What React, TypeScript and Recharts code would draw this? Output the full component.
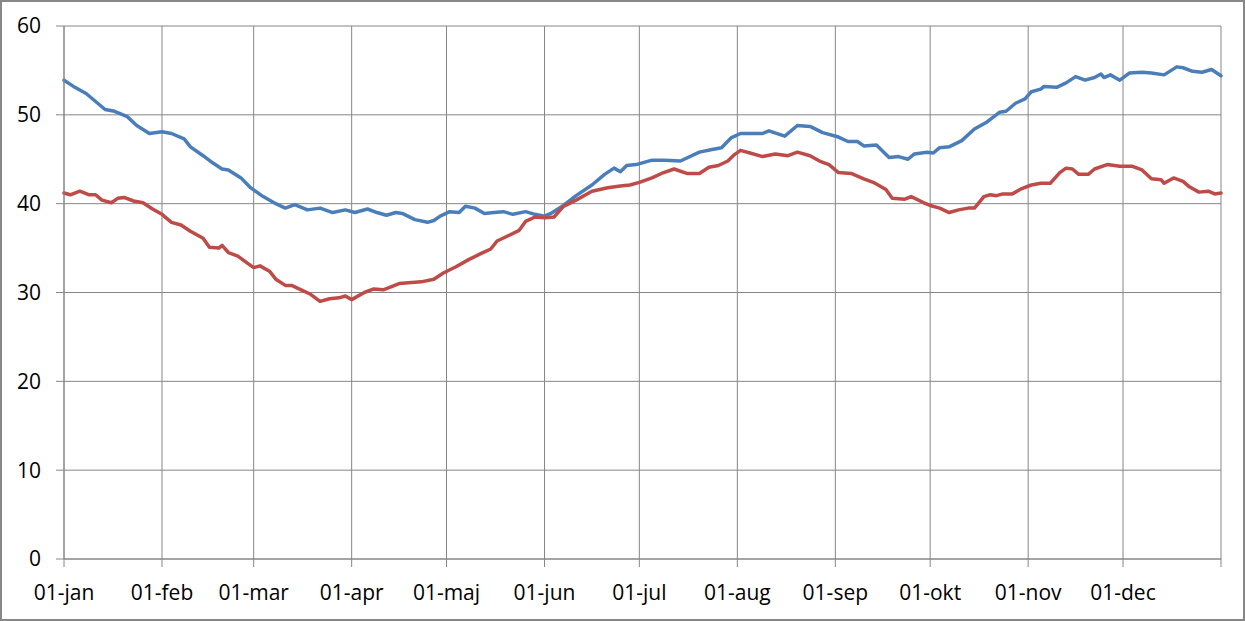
import { LineChart, Line, XAxis, YAxis, CartesianGrid } from 'recharts'

// day of year (0 = 01-jan, leap year) for each month start, plus year end
const monthDays = [0, 31, 60, 91, 121, 152, 182, 213, 244, 274, 305, 335, 366]
const monthLabels = [
  '01-jan', '01-feb', '01-mar', '01-apr', '01-maj', '01-jun',
  '01-jul', '01-aug', '01-sep', '01-okt', '01-nov', '01-dec', '',
]
const yTicks = [0, 10, 20, 30, 40, 50, 60]

const blueDays = [
  0, 3, 7, 10, 13, 16, 20, 23, 27, 31, 34, 38, 40, 44, 47, 50, 52, 56, 59, 63,
  67, 70, 73, 77, 81, 85, 89, 92, 96, 99, 102, 105, 107, 111, 115, 117, 119, 122, 125, 127,
  130, 133, 136, 139, 142, 146, 149, 152, 154, 158, 162, 167, 171, 174, 176, 178, 181, 186, 190, 195,
  201, 205, 208, 211, 214, 217, 221, 223, 228, 232, 236, 240, 245, 248, 251, 253, 257, 261, 264, 267,
  269, 273, 275, 277, 280, 284, 288, 292, 296, 298, 301, 304, 306, 309, 310, 314, 317, 320, 323, 326,
  328, 329, 331, 334, 337, 341, 344, 348, 352, 354, 357, 360, 363, 366,
]
const blueValues = [
  53.9, 53.2, 52.4, 51.5, 50.6, 50.4, 49.8, 48.8, 47.9, 48.1, 47.9, 47.3, 46.4, 45.4, 44.6, 43.9, 43.8, 42.9, 41.8, 40.8,
  40.0, 39.5, 39.9, 39.3, 39.5, 39.0, 39.3, 39.0, 39.4, 39.0, 38.7, 39.0, 38.9, 38.2, 37.9, 38.1, 38.6, 39.1, 39.0, 39.7,
  39.5, 38.9, 39.0, 39.1, 38.8, 39.1, 38.8, 38.6, 38.9, 39.8, 40.9, 42.1, 43.3, 44.0, 43.6, 44.3, 44.4, 44.9, 44.9, 44.8,
  45.8, 46.1, 46.3, 47.4, 47.9, 47.9, 47.9, 48.2, 47.6, 48.8, 48.7, 48.0, 47.5, 47.0, 47.0, 46.5, 46.6, 45.2, 45.3, 45.0,
  45.6, 45.8, 45.7, 46.3, 46.4, 47.1, 48.4, 49.2, 50.3, 50.4, 51.3, 51.8, 52.6, 52.9, 53.2, 53.1, 53.6, 54.3, 53.9, 54.2,
  54.6, 54.2, 54.5, 53.9, 54.7, 54.8, 54.7, 54.5, 55.4, 55.3, 54.9, 54.8, 55.1, 54.4,
]

const redDays = [
  0, 2, 5, 8, 10, 12, 15, 17, 19, 22, 25, 28, 31, 34, 37, 40, 44, 46, 49, 50,
  52, 55, 58, 60, 62, 65, 67, 70, 72, 75, 78, 81, 84, 87, 89, 91, 95, 98, 101, 106,
  109, 113, 117, 120, 124, 128, 132, 135, 137, 140, 144, 146, 149, 152, 155, 158, 162, 167, 172, 176,
  179, 182, 186, 189, 193, 197, 201, 204, 207, 210, 212, 214, 217, 221, 225, 229, 232, 236, 239, 242,
  245, 249, 253, 256, 260, 262, 266, 268, 272, 274, 277, 280, 283, 286, 288, 291, 293, 295, 297, 300,
  303, 306, 309, 312, 315, 317, 319, 321, 324, 326, 330, 334, 338, 341, 344, 347, 348, 351, 354, 356,
  359, 362, 364, 366,
]
const redValues = [
  41.2, 41.0, 41.4, 41.0, 41.0, 40.4, 40.1, 40.6, 40.7, 40.3, 40.1, 39.4, 38.8, 37.9, 37.6, 36.9, 36.1, 35.1, 35.0, 35.3,
  34.5, 34.1, 33.3, 32.8, 33.0, 32.4, 31.5, 30.8, 30.8, 30.3, 29.8, 29.0, 29.3, 29.4, 29.6, 29.2, 30.0, 30.4, 30.3, 31.0,
  31.1, 31.2, 31.5, 32.2, 32.9, 33.7, 34.4, 34.9, 35.8, 36.3, 37.0, 38.0, 38.5, 38.4, 38.5, 39.7, 40.4, 41.4, 41.8, 42.0,
  42.1, 42.4, 42.9, 43.4, 43.9, 43.4, 43.4, 44.1, 44.3, 44.8, 45.5, 46.0, 45.7, 45.3, 45.6, 45.4, 45.8, 45.4, 44.8, 44.4,
  43.5, 43.4, 42.8, 42.4, 41.6, 40.6, 40.5, 40.8, 40.1, 39.8, 39.5, 39.0, 39.3, 39.5, 39.5, 40.8, 41.0, 40.9, 41.1, 41.1,
  41.7, 42.1, 42.3, 42.3, 43.5, 44.0, 43.9, 43.3, 43.3, 43.9, 44.4, 44.2, 44.2, 43.8, 42.8, 42.7, 42.3, 42.9, 42.5, 41.9,
  41.3, 41.4, 41.1, 41.2,
]

const blueData = blueDays.map((day, i) => ({ day, value: blueValues[i] }))
const redData = redDays.map((day, i) => ({ day, value: redValues[i] }))

const GRID = '#868686'
const tickStyle = { fontSize: 21, fill: '#000', fontFamily: '"Open Sans", sans-serif' }

function formatMonth(day: number): string {
  const i = monthDays.indexOf(day)
  return i >= 0 ? monthLabels[i] : ''
}

export default function App() {
  return (
    <div style={{ position: 'absolute', left: 0, top: 0, width: 1245, height: 621, background: '#fff' }}>
      <LineChart width={1245} height={621} margin={{ top: 26, right: 24, bottom: 0, left: 0 }}>
        <CartesianGrid stroke={GRID} strokeWidth={1} />
        <XAxis
          type="number"
          dataKey="day"
          domain={[0, 366]}
          ticks={monthDays}
          interval={0}
          tickFormatter={formatMonth}
          height={62}
          stroke={GRID}
          tickSize={8}
          tickMargin={18}
          tick={tickStyle}
          allowDuplicatedCategory={false}
        />
        <YAxis
          domain={[0, 60]}
          ticks={yTicks}
          interval={0}
          width={64}
          stroke={GRID}
          tickSize={8}
          tickMargin={15}
          tick={tickStyle}
        />
        <Line
          data={blueData}
          dataKey="value"
          type="linear"
          stroke="#4a7ebb"
          strokeWidth={3.5}
          strokeLinejoin="round"
          strokeLinecap="round"
          dot={false}
          activeDot={false}
          isAnimationActive={false}
        />
        <Line
          data={redData}
          dataKey="value"
          type="linear"
          stroke="#be4b48"
          strokeWidth={3.5}
          strokeLinejoin="round"
          strokeLinecap="round"
          dot={false}
          activeDot={false}
          isAnimationActive={false}
        />
      </LineChart>
      <div
        style={{
          position: 'absolute',
          inset: 0,
          border: '2px solid #878787',
          pointerEvents: 'none',
        }}
      />
    </div>
  )
}
